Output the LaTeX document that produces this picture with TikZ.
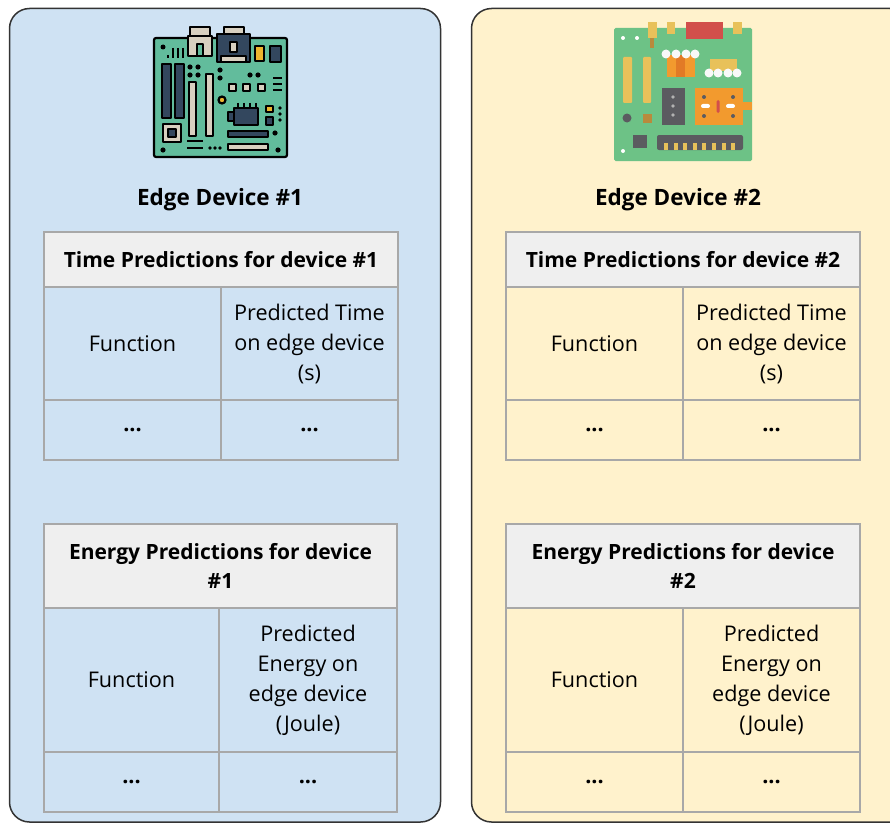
\documentclass[tikz,border=0pt]{standalone}
\usepackage{fontspec}
\setmainfont{Open Sans}
\definecolor{paneblue}{HTML}{CFE2F3}
\definecolor{paneyellow}{HTML}{FFF2CC}
\definecolor{headgray}{HTML}{EFEFEF}
\definecolor{gridgray}{HTML}{A8A8A8}
% motherboard (outlined) palette
\definecolor{boardteal}{HTML}{62BC9C}
\definecolor{slotnavy}{HTML}{33475E}
\definecolor{slotbeige}{HTML}{D8D0C0}
\definecolor{partyellow}{HTML}{EDB62F}
% motherboard (flat) palette
\definecolor{rgreen}{HTML}{6DC286}
\definecolor{ryellow}{HTML}{E8C15A}
\definecolor{rorange}{HTML}{F29A2E}
\definecolor{rdorange}{HTML}{E27A26}
\definecolor{rred}{HTML}{D24F4B}
\definecolor{rdark}{HTML}{5B5B60}
\definecolor{rbrown}{HTML}{B98A3C}
\tikzset{
  panel/.style={draw=black!80, line width=1.5pt, rounded corners=20pt},
  cell/.style={draw=gridgray, line width=1.2pt, inner sep=0pt, outer sep=0pt,
    align=center, anchor=north west, font=\fontsize{21.6}{30}\selectfont},
  headcell/.style={cell, fill=headgray, font=\fontsize{21}{29.5}\selectfont\bfseries},
  title/.style={font=\fontsize{22.5}{26}\selectfont\bfseries},
  ol/.style={draw=black, line width=2.2pt, line join=round},
}
% #1 prefix, #2 x, #3 y, #4 header height, #5 row height,
% #6 first column width, #7 second column width, #8 header, #9 right cell
\newcommand\predtable[9]{%
  \node[headcell, minimum width=#6pt+#7pt, minimum height=#4pt] (#1h) at (#2,#3) {#8};
  \node[cell, minimum width=#6pt, minimum height=#5pt] (#1a) at (#1h.south west) {Function};
  \node[cell, minimum width=#7pt, minimum height=#5pt] (#1b) at (#1a.north east) {#9};
  \node[cell, minimum width=#6pt, minimum height=60pt] (#1c) at (#1a.south west) {\textbf{...}};
  \node[cell, minimum width=#7pt, minimum height=60pt] (#1d) at (#1c.north east) {\textbf{...}};
}
\begin{document}
\begin{tikzpicture}[x=1pt, y=-1pt]
\useasboundingbox (0,0) rectangle (890,824);
\clip (0,0) rectangle (890,824);

% device panels
\draw[panel, fill=paneblue] (9.5,8.5) rectangle (440.5,822);
\draw[panel, fill=paneyellow] (471.5,8.5) rectangle (910,822);

% ---- outlined motherboard ----
\draw[ol, fill=boardteal, rounded corners=2pt] (154,38) rectangle (287,157);
\draw[ol, fill=slotbeige] (190,27) rectangle (210,36);
\draw[ol, fill=slotbeige] (188,36) rectangle (212,56);
\draw[ol, fill=boardteal] (197,44) rectangle (203,56);
\draw[ol, fill=slotbeige] (224,27) rectangle (244,34);
\draw[ol, fill=slotnavy] (217,34) rectangle (250,62);
\draw[ol, fill=slotbeige] (221,56) rectangle (246,62);
\draw[ol, fill=slotbeige] (230,42) rectangle (237,52);
\draw[ol, fill=partyellow] (255,46) rectangle (264,61);
\draw[ol, fill=slotnavy] (270,46) rectangle (281,62);
\fill (163,47) circle (2.5);
\foreach \bx/\by in {168/55,173/48,178/48,183/48}
  \draw[line width=2pt] (\bx,\by) -- (\bx,58);
\draw[ol, fill=slotnavy] (162,64) rectangle (171,118);
\draw[ol, fill=slotnavy] (175,64) rectangle (184,118);
\foreach \dx/\dy in {190/67,198/67,190/75,198/75,220/70,220/78,250/75,258/75,163/150,275/133,278/150}
  \fill (\dx,\dy) circle (2.6);
\draw[ol, fill=slotbeige] (189,82) rectangle (196,136);
\draw[ol, fill=slotbeige] (206,74) rectangle (213,136);
\draw[ol, fill=slotbeige] (229,84) rectangle (236,91);
\draw[ol, fill=slotbeige] (243,84) rectangle (250,91);
\draw[ol, fill=slotbeige] (258,84) rectangle (265,91);
\foreach \ly in {78,84,90} \draw[line width=2pt] (273,\ly) -- (282,\ly);
\draw[ol, fill=partyellow] (222,100) circle (3.5);
\foreach \px in {238,244,250,256} \draw[line width=2pt] (\px,103) -- (\px,108);
\draw[ol, fill=slotnavy] (228,112) rectangle (235,121);
\draw[ol, fill=slotnavy] (234,108) rectangle (258,125);
\draw[ol, fill=partyellow] (266,106) rectangle (273,112);
\draw[ol, fill=slotnavy] (266,117) rectangle (273,125);
\foreach \qy in {108,114,120} \fill (280,\qy) circle (1.8);
\draw[ol, fill=slotbeige] (163,124) rectangle (181,142);
\draw[ol, fill=slotnavy] (168,129) rectangle (176,137);
\draw[ol, fill=slotnavy] (228,131) rectangle (268,137);
\draw[ol, fill=slotbeige] (228,144) rectangle (268,150);
\draw[line width=2pt] (187,141) -- (203,141);
\draw[line width=2pt] (187,148) -- (203,148);
\foreach \sx in {210,215,220} \fill (\sx,148) circle (1.8);

% ---- flat motherboard ----
\fill[rgreen, rounded corners=1.5pt] (614,28) rectangle (752,161);
\fill[ryellow] (648,22) rectangle (657,38);
\fill[rbrown] (649.5,38) rectangle (653.5,48);
\fill[ryellow] (667,22) rectangle (675,34);
\fill[ryellow] (733,22) rectangle (742,34);
\fill[rred] (686,22) rectangle (723,39);
\fill[white] (623,38) circle (2) (637,38) circle (2) (623,151) circle (2);
\fill[ryellow, rounded corners=1pt] (623,57) rectangle (632,103);
\fill[ryellow, rounded corners=1pt] (643,57) rectangle (651,103);
\fill[rorange] (667,55) rectangle (695,77);
\fill[rdorange] (676,55) rectangle (685,77);
\foreach \cx in {666,676,686,695} \fill[white!95!gray] (\cx,54) circle (4.5);
\fill[ryellow] (710,59) rectangle (737,71);
\foreach \cx in {709,718,728,737} \fill[white!95!gray] (\cx,73) circle (4.5);
\fill[rdark] (662,88) rectangle (685,125);
\foreach \cy in {97,106,115} \fill[gray!60] (673,\cy) circle (1.8);
\fill[rorange] (695,88) rectangle (743,125);
\fill[rorange] (743,102) rectangle (752,110);
\foreach \cx/\cy in {704/97,733/97,704/116,733/116} \fill[rdark] (\cx,\cy) circle (2);
\fill[white, rounded corners=2pt] (701,104) rectangle (710,108);
\fill[white, rounded corners=2pt] (726,104) rectangle (735,108);
\fill[rred, rounded corners=1.5pt] (716.5,100) rectangle (719.5,113);
\fill[rdark] (627,118) circle (4.5);
\fill[rbrown] (643,114) rectangle (652,123);
\fill[rdark] (633,135) rectangle (647,148);
\fill[rdark, rounded corners=2pt] (657,135) rectangle (743,150);
\foreach \k in {0,...,7} \fill[ryellow] (664+9.6*\k,143) rectangle (668+9.6*\k,150);

% ---- titles ----
\node[title] (ttl1) at (220,200) {Edge Device \#1};
\node[title] (ttl2) at (678,200) {Edge Device \#2};

% ---- prediction tables ----
\predtable{ta}{44}{232}{55}{113}{177}{177}{Time Predictions for device \#1}{Predicted Time\\on edge device\\(s)}
\predtable{ea}{44}{524}{84}{144}{175}{178}{Energy Predictions for device\\\#1}{Predicted\\Energy on\\edge device\\(Joule)}
\predtable{tb}{506}{232}{55}{113}{177}{177}{Time Predictions for device \#2}{Predicted Time\\on edge device\\(s)}
\predtable{eb}{506}{524}{84}{144}{177}{177}{Energy Predictions for device\\\#2}{Predicted\\Energy on\\edge device\\(Joule)}
\end{tikzpicture}
\end{document}
